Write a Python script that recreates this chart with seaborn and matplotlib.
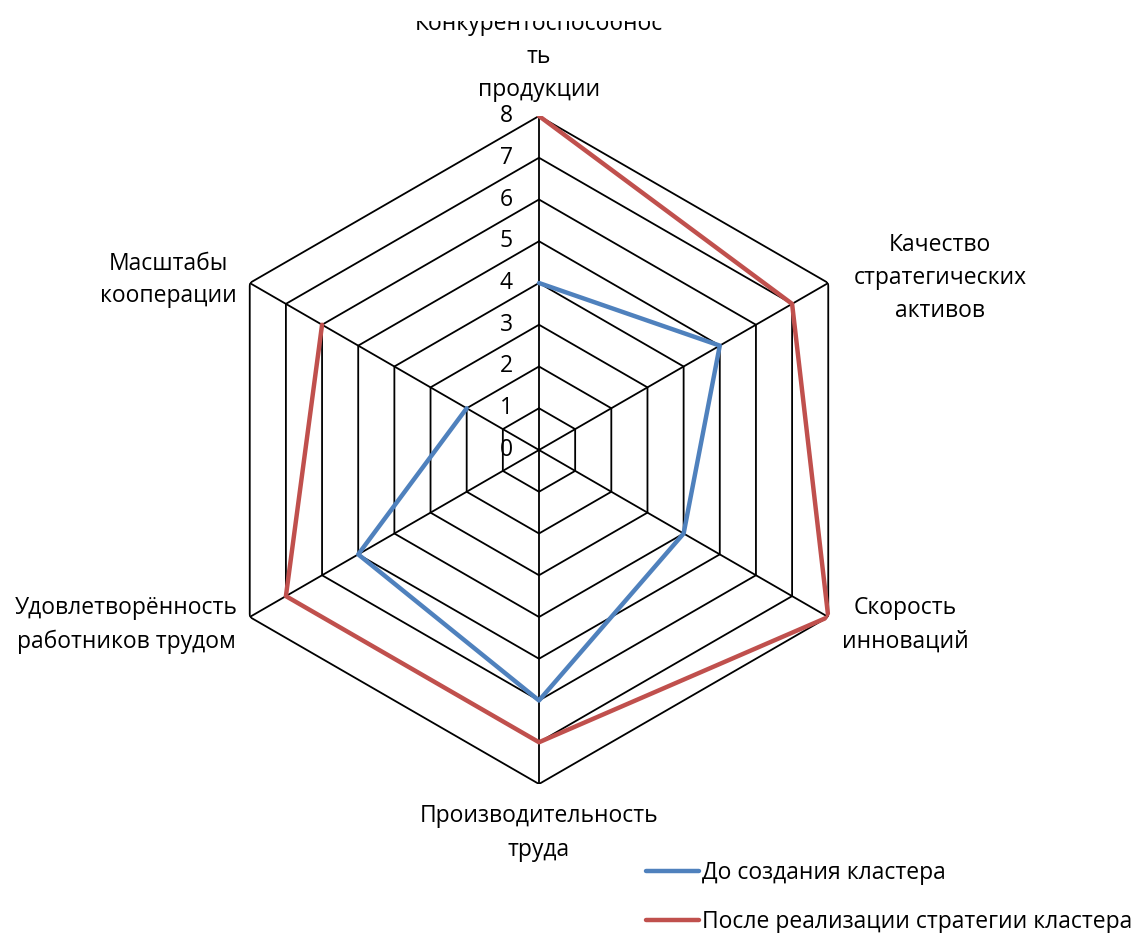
import numpy as np
import pandas as pd
import matplotlib
matplotlib.use("Agg")
import matplotlib.pyplot as plt
import seaborn as sns
from matplotlib.patches import Rectangle
from matplotlib.lines import Line2D

categories = [
    "Конкурентоспособнос\nть\nпродукции",
    "Качество\nстратегических\nактивов",
    "Скорость\nинноваций",
    "Производительность\nтруда",
    "Удовлетворённость\nработников трудом",
    "Масштабы\nкооперации",
]
before = [4, 5, 4, 6, 5, 2]
after = [8, 7, 8, 7, 7, 6]
series_names = ["До создания кластера", "После реализации стратегии кластера"]
ticks = [0, 1, 2, 3, 4, 5, 6, 7, 8]

sns.set_style("white")
plt.rcParams["font.family"] = ["Open Sans", "DejaVu Sans"]
plt.rcParams["text.color"] = "black"

W, H = 1139, 933
fig = plt.figure(figsize=(W / 100, H / 100), dpi=100)
cx, cy, R = 539, 450, 334
ax = fig.add_axes([(cx - R) / W, (H - cy - R) / H, 2 * R / W, 2 * R / H], projection="polar")
ax.set_theta_zero_location("N")
ax.set_theta_direction(-1)
ax.set_ylim(0, max(ticks))
ax.grid(False)
ax.spines["polar"].set_visible(False)
ax.set_xticks([])
ax.set_yticks([])
ax.patch.set_alpha(0)

n = len(categories)
angles = np.arange(n) * 2 * np.pi / n
closed = np.append(angles, angles[0])

# hexagonal grid
for t in ticks[1:]:
    ax.plot(closed, [t] * (n + 1), color="black", lw=1.3, zorder=1)
for a in angles:
    ax.plot([a, a], [0, max(ticks)], color="black", lw=1.3, zorder=1)

colors = ["#4F81BD", "#C0504D"]
rows = []
for name, vals in zip(series_names, [before, after]):
    for i in range(n + 1):
        rows.append({"series": name, "theta": closed[i], "r": vals[i % n], "order": i})
df = pd.DataFrame(rows)
sns.lineplot(data=df, x="theta", y="r", hue="series", palette=colors, sort=False,
             ax=ax, lw=3.2, legend=False, zorder=3)
ax.set_xlabel("")
ax.set_ylabel("")
ax.set_ylim(0, max(ticks))

fs = 16.5
for t in ticks:
    ax.annotate(str(t), xy=(0, t), xytext=(-19, 0), textcoords="offset points",
                ha="right", va="center", fontsize=fs, color="black", zorder=4)

# category labels (pixel positions)
label_pos = [
    (539, 57),
    (940, 278),
    (905, 625),
    (539, 833),
    (126, 625),
    (168, 280),
]
clip = Rectangle((0, 0), 1, 1 - 21 / H, transform=fig.transFigure, visible=False)
fig.add_artist(clip)
for lab, (x, y) in zip(categories, label_pos):
    t = fig.text(x / W, 1 - y / H, lab, ha="center", va="center", fontsize=fs,
                 linespacing=1.5, multialignment="center", color="black")
    t.set_clip_path(clip)

handles = [Line2D([], [], color=c, lw=3.2) for c in colors]
fig.legend(handles, series_names, loc="upper left", bbox_to_anchor=(646 / W, 1 - 861 / H),
           frameon=False, fontsize=fs, handlelength=2.3, handletextpad=0.15,
           labelspacing=1.1, borderaxespad=0, borderpad=0, labelcolor="black")

fig.savefig("out.png", dpi=100)
